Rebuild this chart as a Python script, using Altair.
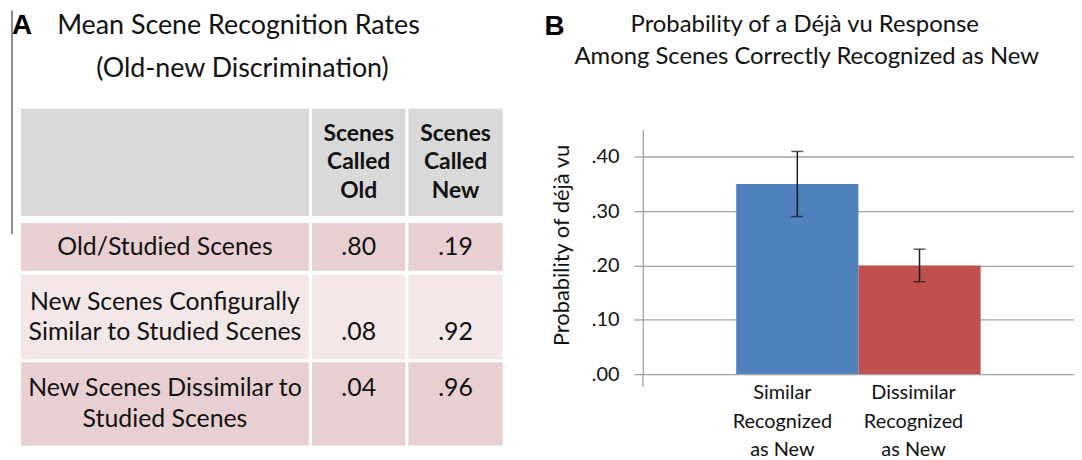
import altair as alt
import pandas as pd

# ---------------- data ----------------
# Panel A: mean scene recognition rates
row_labels = [
    ["Old/Studied Scenes"],
    ["New Scenes Configurally", "Similar to Studied Scenes"],
    ["New Scenes Dissimilar to", "Studied Scenes"],
]
col_headers = [["Scenes", "Called", "Old"], ["Scenes", "Called", "New"]]
called_old = [0.80, 0.08, 0.04]
called_new = [0.19, 0.92, 0.96]
number_line = [0, 1, 0]  # which text line the numbers sit on

# Panel B: probability of deja vu
categories = ["Similar Recognized as New", "Dissimilar Recognized as New"]
cat_lines = [["Similar", "Recognized", "as New"], ["Dissimilar", "Recognized", "as New"]]
probability = [0.35, 0.20]
err_low = [0.29, 0.17]
err_high = [0.41, 0.23]
bar_colors = ["#4F81BD", "#C0504D"]

# ---------------- layout ----------------
FONT = "Lato"
W1, H = 532, 452
SPACING = 107
W2 = 434
COL_EDGES = [(13, 303), (306, 400), (403, 498)]
ROW_EDGES = [(99, 207), (214, 262), (266, 351), (354, 438)]
ROW_FILLS = ["#D9D9D9", "#E8D0D2", "#F3E7E8", "#E8D0D2"]
LH = 31
LH_HEAD = 28.5

def fmt(v):
    return f"{v:.2f}"[1:]

cells = []
for r, (y0, y1) in enumerate(ROW_EDGES):
    for c, (x0, x1) in enumerate(COL_EDGES):
        cells.append({"x": x0, "x2": x1, "y": y0, "y2": y1, "fill": ROW_FILLS[r]})
cells = pd.DataFrame(cells)

texts = []
def add_block(lines, col, row, bold, center_y=None, lh=LH):
    x0, x1 = COL_EDGES[col]
    y0, y1 = ROW_EDGES[row]
    cy = (y0 + y1) / 2 if center_y is None else center_y
    n = len(lines)
    for i, t in enumerate(lines):
        texts.append({"x": (x0 + x1) / 2, "y": cy + (i - (n - 1) / 2) * lh,
                      "t": t, "b": bold})

for j, hdr in enumerate(col_headers):
    add_block(hdr, j + 1, 0, True, lh=LH_HEAD)
for i, lab in enumerate(row_labels):
    add_block(lab, 0, i + 1, False)
    y0, y1 = ROW_EDGES[i + 1]
    cy = (y0 + y1) / 2
    n = len(lab)
    ly = cy + (number_line[i] - (n - 1) / 2) * LH
    add_block([fmt(called_old[i])], 1, i + 1, False, ly)
    add_block([fmt(called_new[i])], 2, i + 1, False, ly)
texts = pd.DataFrame(texts)

xs = alt.Scale(domain=[0, W1], range=[0, W1], nice=False, zero=False)
ys = alt.Scale(domain=[0, H], range=[0, H], nice=False, zero=False)

one = pd.DataFrame({"k": [0]})

rects = alt.Chart(cells).mark_rect().encode(
    x=alt.X("x:Q", scale=xs, axis=None),
    x2="x2:Q",
    y=alt.Y("y:Q", scale=ys, axis=None),
    y2="y2:Q",
    color=alt.Color("fill:N", scale=None),
)
text_normal = alt.Chart(texts[~texts.b]).mark_text(
    font=FONT, fontSize=25, color="#111111", baseline="middle").encode(
    x=alt.X("x:Q", scale=xs, axis=None),
    y=alt.Y("y:Q", scale=ys, axis=None),
    text="t:N",
)
text_bold = alt.Chart(texts[texts.b]).mark_text(
    font=FONT, fontSize=23, fontWeight="bold", color="#111111", baseline="middle").encode(
    x=alt.X("x:Q", scale=xs, axis=None),
    y=alt.Y("y:Q", scale=ys, axis=None),
    text="t:N",
)
vline = alt.Chart(one).mark_rule(color="#8C8C8C", strokeWidth=2).encode(
    x=alt.value(4), y=alt.value(0), y2=alt.value(225))
letter_a = alt.Chart(pd.DataFrame({"t": ["A"]})).mark_text(
    font="Liberation Sans", fontWeight="bold", fontSize=28, align="left", baseline="alphabetic", color="#000"
).encode(x=alt.value(4), y=alt.value(24), text="t:N")
title_a1 = alt.Chart(pd.DataFrame({"t": ["Mean Scene Recognition Rates"]})).mark_text(
    font=FONT, fontSize=27, baseline="middle", color="#111"
).encode(x=alt.value(232), y=alt.value(16), text="t:N")
title_a2 = alt.Chart(pd.DataFrame({"t": ["(Old-new Discrimination)"]})).mark_text(
    font=FONT, fontSize=27, baseline="middle", color="#111"
).encode(x=alt.value(236), y=alt.value(59), text="t:N")

panel_a = alt.layer(vline, letter_a, title_a1, title_a2, rects, text_normal, text_bold).properties(
    width=W1, height=H)

# ---------------- panel B ----------------
bdf = pd.DataFrame({
    "cat": categories, "p": probability, "lo": err_low, "hi": err_high, "col": bar_colors,
    "l1": [l[0] for l in cat_lines], "l2": [l[1] for l in cat_lines], "l3": [l[2] for l in cat_lines],
})
GRID = "#A3A3A3"
xb = alt.Scale(domain=categories, paddingInner=0, paddingOuter=0.764, align=0.5)
yb = alt.Scale(domain=[0, 0.45], range=[366, 120], nice=False, zero=True)
yaxis = alt.Axis(
    values=[0, 0.1, 0.2, 0.3, 0.4], labelExpr="substring(format(datum.value, '.2f'), 1)",
    grid=True, gridColor=GRID, gridWidth=1.3, domainColor=GRID, domainWidth=1.3,
    tickColor=GRID, tickWidth=1.3, tickSize=9, labelPadding=15, labelFont=FONT, labelFontSize=20,
    labelColor="#111", title="Probability of déjà vu", titleFont=FONT, titleFontSize=22,
    titleFontWeight="normal", titleColor="#111", titleX=-82, titleY=236, titleAngle=270,
    titleAlign="center", titleBaseline="middle",
)
base = alt.Chart(bdf)
X = alt.X("cat:N", scale=xb, axis=None, sort=categories)
bars = base.mark_bar().encode(
    x=X, y=alt.Y("p:Q", scale=yb, axis=yaxis), color=alt.Color("col:N", scale=None))
err = base.mark_rule(color="#1A1A1A", strokeWidth=1.5).encode(
    x=X, y=alt.Y("lo:Q", scale=yb, axis=yaxis), y2="hi:Q")
cap_lo = base.mark_tick(color="#1A1A1A", thickness=1.5, size=12).encode(
    x=X, y=alt.Y("lo:Q", scale=yb, axis=yaxis))
cap_hi = base.mark_tick(color="#1A1A1A", thickness=1.5, size=12).encode(
    x=X, y=alt.Y("hi:Q", scale=yb, axis=yaxis))
lab_layers = []
for cat, dx in zip(categories, [-15, -6]):
    for f, y in [("l1", 385), ("l2", 414), ("l3", 442)]:
        lab_layers.append(
            base.transform_filter(alt.datum.cat == cat).mark_text(
                font=FONT, fontSize=20, color="#111", baseline="middle", dx=dx
            ).encode(x=X, y=alt.value(y), text=f"{f}:N")
        )
edge_tick = alt.Chart(one).mark_rule(color=GRID, strokeWidth=1.3).encode(
    x=alt.value(0), y=alt.value(366), y2=alt.value(379))
title_b1 = alt.Chart(pd.DataFrame({"t": ["Probability of a Déjà vu Response"]})).mark_text(
    font=FONT, fontSize=24, baseline="middle", color="#111").encode(x=alt.value(163), y=alt.value(15), text="t:N")
title_b2 = alt.Chart(pd.DataFrame({"t": ["Among Scenes Correctly Recognized as New"]})).mark_text(
    font=FONT, fontSize=24, baseline="middle", color="#111").encode(x=alt.value(165), y=alt.value(47), text="t:N")
letter_b = alt.Chart(pd.DataFrame({"t": ["B"]})).mark_text(
    font="Liberation Sans", fontWeight="bold", fontSize=28, align="left", baseline="alphabetic", color="#000"
).encode(x=alt.value(-99), y=alt.value(25), text="t:N")

panel_b = alt.layer(bars, err, cap_lo, cap_hi, *lab_layers, edge_tick, title_b1, title_b2, letter_b).properties(
    width=W2, height=H)

chart = alt.hconcat(panel_a, panel_b, spacing=SPACING, bounds="flush").properties(
    padding=0, background="white"
).configure_view(stroke=None)

chart.save("out.html", embed_options={"renderer": "svg", "actions": False})
